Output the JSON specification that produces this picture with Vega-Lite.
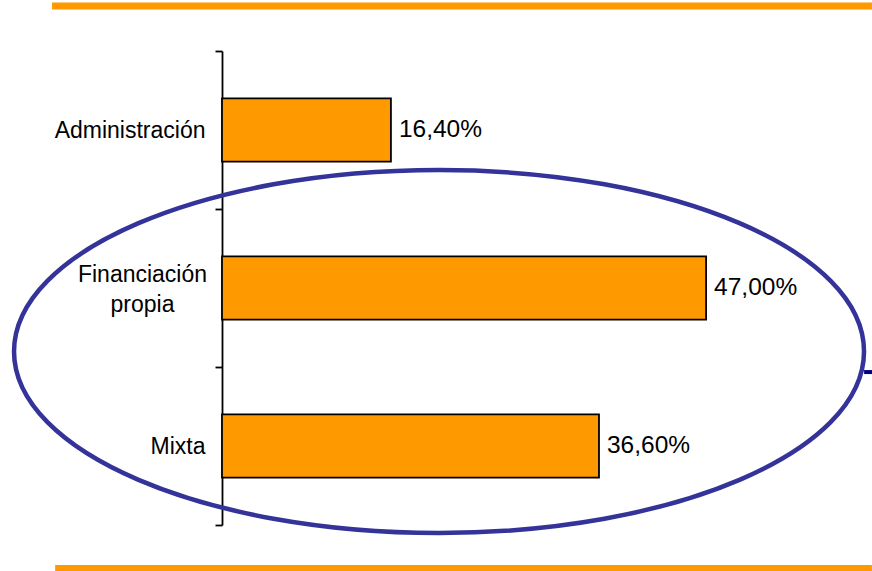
{
  "$schema": "https://vega.github.io/schema/vega-lite/v6.json",
  "autosize": "none",
  "width": 515,
  "height": 474,
  "padding": {"left": 222, "top": 51, "right": 135, "bottom": 46},
  "background": "white",
  "config": {
    "view": {"stroke": null},
    "locale": {"number": {"decimal": ",", "thousands": ".", "grouping": [3], "currency": ["", " €"]}},
    "font": "Liberation Sans"
  },
  "datasets": {
    "bars": [
      {"tipo": "Administración", "valor": 0.164},
      {"tipo": "Financiación propia", "valor": 0.47},
      {"tipo": "Mixta", "valor": 0.366}
    ],
    "ellipse": [{"cx": 0.2107, "cy": 1.098}],
    "bands": [
      {"x": -0.165, "x2": 0.631, "y": 3.285},
      {"x": -0.162, "x2": 0.631, "y": -0.275}
    ],
    "stub": [{"x": 0.6234, "x2": 0.6312, "y": 0.968}]
  },
  "layer": [
    {
      "layer": [
        {
          "data": {"name": "bars"},
          "mark": {"type": "bar", "color": "#FF9900", "stroke": "#000000", "strokeWidth": 1.8, "height": {"band": 0.4}},
          "encoding": {
            "y": {
              "field": "tipo", "type": "nominal", "sort": null,
              "scale": {"paddingInner": 0, "paddingOuter": 0},
              "axis": {
                "title": null,
                "tickBand": "extent",
                "domainColor": "#000000", "domainWidth": 1.8,
                "tickColor": "#000000", "tickWidth": 1.8, "tickSize": 7,
                "labelFont": "Liberation Sans", "labelFontSize": 23, "labelColor": "#000000",
                "labelLineHeight": 30,
                "labelExpr": "datum.value == 'Financiación propia' ? ['Financiación', 'propia'] : datum.label",
                "labelAlign": {"condition": {"test": "datum.value == 'Financiación propia'", "value": "center"}, "value": "right"},
                "labelPadding": {"condition": {"test": "datum.value == 'Financiación propia'", "value": 73}, "value": 10},
                "labelOffset": {"condition": {"test": "datum.value == 'Financiación propia'", "value": -14}, "value": 0}
              }
            },
            "x": {
              "field": "valor", "type": "quantitative",
              "scale": {"domain": [0, 0.5], "nice": false, "zero": true},
              "axis": null
            }
          }
        },
        {
          "data": {"name": "bars"},
          "mark": {"type": "text", "align": "left", "baseline": "middle", "dx": 8, "fontSize": 24.5, "font": "Liberation Sans", "color": "#000000"},
          "encoding": {
            "y": {"field": "tipo", "type": "nominal", "sort": null},
            "x": {"field": "valor", "type": "quantitative"},
            "text": {"field": "valor", "type": "quantitative", "format": ".2%"}
          }
        }
      ]
    },
    {
      "layer": [
        {
          "data": {"name": "bands"},
          "mark": {"type": "rule", "color": "#FF9900", "strokeWidth": 7, "clip": false},
          "encoding": {
            "x": {"field": "x", "type": "quantitative"},
            "x2": {"field": "x2"},
            "y": {"field": "y", "type": "quantitative", "scale": {"domain": [0, 3], "nice": false, "zero": false}, "axis": null}
          }
        },
        {
          "data": {"name": "stub"},
          "mark": {"type": "rule", "color": "#000080", "strokeWidth": 4, "clip": false},
          "encoding": {
            "x": {"field": "x", "type": "quantitative"},
            "x2": {"field": "x2"},
            "y": {"field": "y", "type": "quantitative"}
          }
        },
        {
          "data": {"name": "ellipse"},
          "mark": {
            "type": "point",
            "shape": "M -1 0 A 1 0.427 0 1 1 1 0 A 1 0.427 0 1 1 -1 0 Z",
            "size": 722500,
            "filled": false,
            "stroke": "#333399",
            "strokeWidth": 4.5,
            "opacity": 1,
            "clip": false
          },
          "encoding": {
            "x": {"field": "cx", "type": "quantitative"},
            "y": {"field": "cy", "type": "quantitative"}
          }
        }
      ]
    }
  ],
  "resolve": {"scale": {"y": "independent"}, "axis": {"y": "independent"}}
}
